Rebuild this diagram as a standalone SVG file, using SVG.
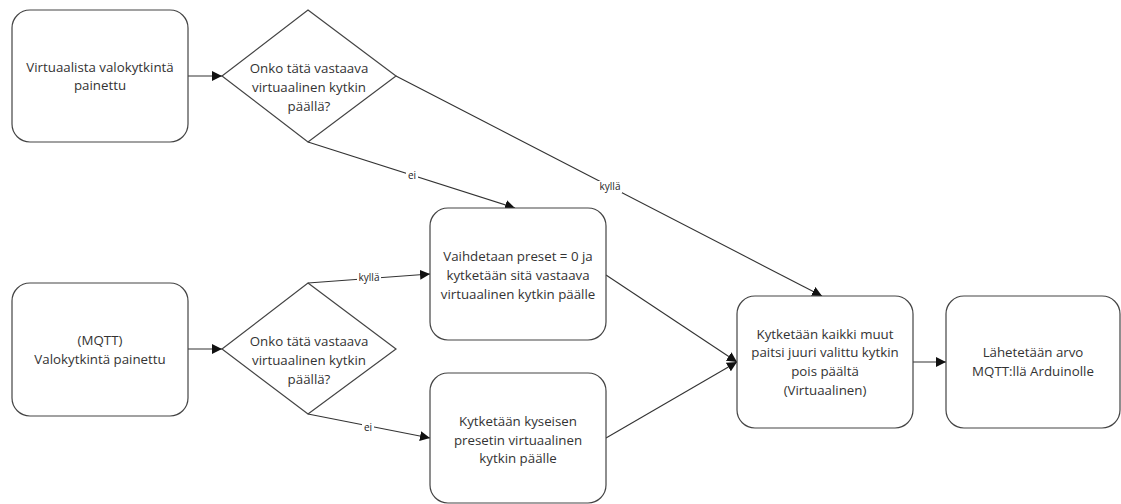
<svg xmlns="http://www.w3.org/2000/svg" width="1121" height="504" viewBox="0 0 1121 504">
<defs>
<marker id="arr" viewBox="0 0 10 10" refX="10" refY="5" markerWidth="10" markerHeight="10" markerUnits="userSpaceOnUse" orient="auto">
<path d="M0,0 L10,5 L0,10 z" fill="#111"/>
</marker>
<style>
.n{fill:#fff;stroke:#444;stroke-width:1.2}
.t{font-family:"Open Sans","Noto Sans",sans-serif;font-size:13.3px;fill:#333;text-anchor:middle}
.c{fill:none;stroke:#333;stroke-width:1.1;marker-end:url(#arr)}
.l{font-family:"Open Sans","Noto Sans",sans-serif;font-size:10px;fill:#222;text-anchor:middle}
.lb{fill:#fff}
</style>
</defs>
<rect width="1121" height="504" fill="#fff"/>
<g id="connectors">
<path class="c" d="M188,76 L222,76"/>
<path class="c" d="M188,349 L222,349"/>
<path class="c" d="M308,142 L515,208"/>
<path class="c" d="M396,76 L822,296"/>
<path class="c" d="M308,283 L430,274"/>
<path class="c" d="M308,414 L430,438"/>
<path class="c" d="M606,275 L737,362"/>
<path class="c" d="M606,438 L737,362"/>
<path class="c" d="M913,362 L946,362"/>
<rect class="lb" x="406" y="170" width="12" height="11"/>
<text class="l" x="412" y="179">ei</text>
<rect class="lb" x="598" y="181" width="24" height="12"/>
<text class="l" x="610" y="190">kyllä</text>
<rect class="lb" x="357" y="273" width="24" height="11"/>
<text class="l" x="369" y="281">kyllä</text>
<rect class="lb" x="362" y="423" width="12" height="11"/>
<text class="l" x="368" y="431">ei</text>
</g>
<g id="n1">
<rect class="n" x="12" y="10" width="176" height="132" rx="18"/>
<text class="t" x="100" y="72">Virtuaalista valokytkintä</text>
<text class="t" x="100" y="90">painettu</text>
</g>
<g id="d1">
<polygon class="n" points="308,10 396,76 308,142 222,76"/>
<text class="t" x="309" y="73">Onko tätä vastaava</text>
<text class="t" x="309" y="92">virtuaalinen kytkin</text>
<text class="t" x="309" y="111">päällä?</text>
</g>
<g id="n2">
<rect class="n" x="12" y="283" width="176" height="133" rx="18"/>
<text class="t" x="100" y="345">(MQTT)</text>
<text class="t" x="100" y="364">Valokytkintä painettu</text>
</g>
<g id="d2">
<polygon class="n" points="308,283 396,349 308,414 222,349"/>
<text class="t" x="309" y="346">Onko tätä vastaava</text>
<text class="t" x="309" y="365">virtuaalinen kytkin</text>
<text class="t" x="309" y="384">päällä?</text>
</g>
<g id="n3">
<rect class="n" x="430" y="208" width="176" height="132" rx="18"/>
<text class="t" x="518" y="261">Vaihdetaan preset = 0 ja</text>
<text class="t" x="518" y="280">kytketään sitä vastaava</text>
<text class="t" x="518" y="299">virtuaalinen kytkin päälle</text>
</g>
<g id="n4">
<rect class="n" x="430" y="373" width="176" height="130" rx="18"/>
<text class="t" x="518" y="426">Kytketään kyseisen</text>
<text class="t" x="518" y="445">presetin virtuaalinen</text>
<text class="t" x="518" y="463">kytkin päälle</text>
</g>
<g id="n5">
<rect class="n" x="737" y="296" width="176" height="132" rx="18"/>
<text class="t" x="825" y="339">Kytketään kaikki muut</text>
<text class="t" x="825" y="357">paitsi juuri valittu kytkin</text>
<text class="t" x="825" y="376">pois päältä</text>
<text class="t" x="825" y="395">(Virtuaalinen)</text>
</g>
<g id="n6">
<rect class="n" x="946" y="296" width="174" height="132" rx="18"/>
<text class="t" x="1033" y="357">Lähetetään arvo</text>
<text class="t" x="1033" y="376">MQTT:llä Arduinolle</text>
</g>
</svg>
